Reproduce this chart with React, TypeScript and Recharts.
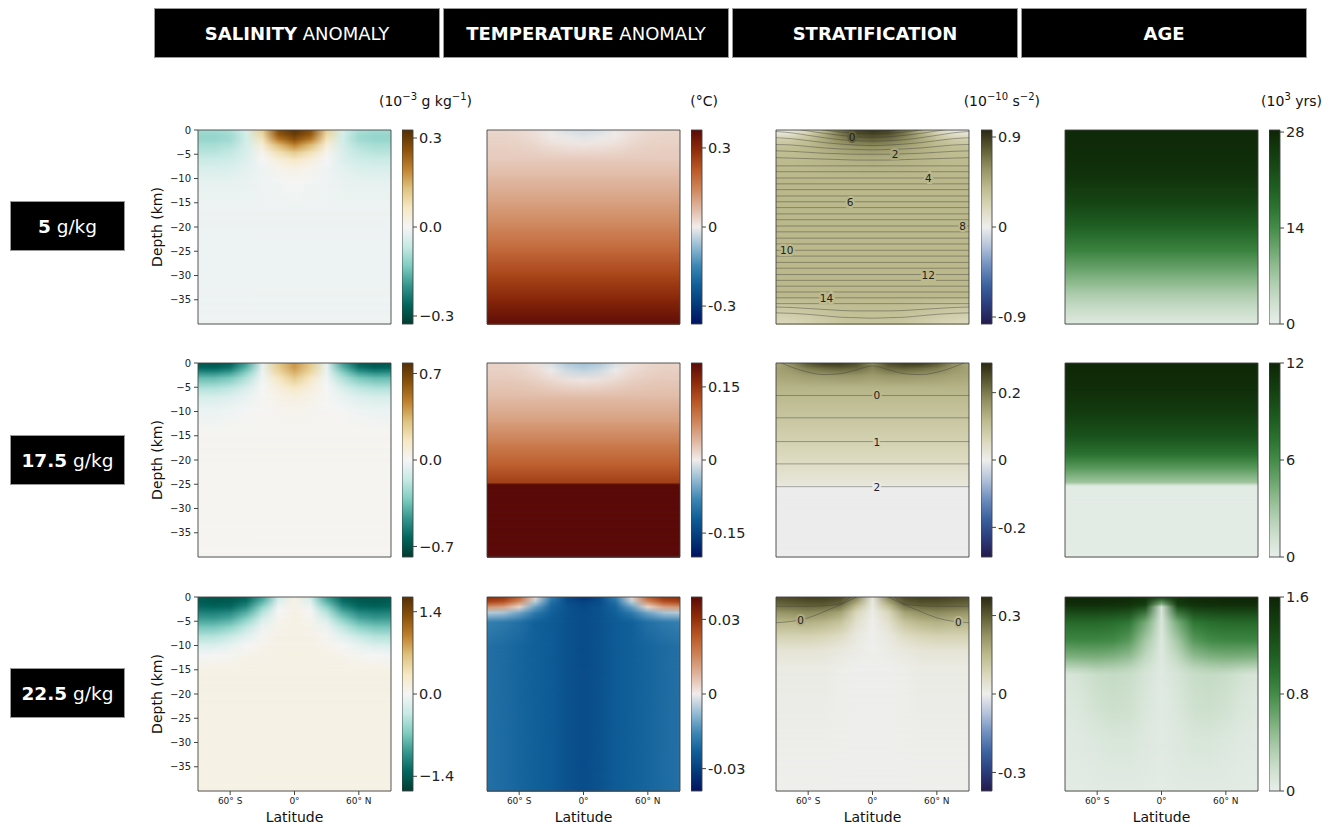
import React from 'react';
import { ComposedChart, XAxis, YAxis, ReferenceArea, ReferenceLine, Line, Scatter } from 'recharts';

// ---------- layout ----------
const COL_X = [198, 487, 776, 1065];
const ROW_Y = [130, 363, 597];
const PW = 193;
const PH = 194;
const CB_X = [402, 691, 981, 1269];
const CBW = 11;
const YW = 40;
const XH = 24;
const TM = 8;
const RM = 2;
const CBM = 10;
const FONT = "'DejaVu Sans', 'Liberation Sans', sans-serif";

// ---------- axes ----------
const LAT_HALF = [0, 15, 30, 45, 60, 75, 90];
const LAT_FULL = [-90, -75, -60, -45, -30, -15, 0, 15, 30, 45, 60, 75, 90];
const DEPTH_TICKS = [0, -5, -10, -15, -20, -25, -30, -35];
const LAT_TICKS = [-60, 0, 60];
const LAT_TICK_LABELS = ['60° S', '0°', '60° N'];

// ---------- titles ----------
const COLUMN_TITLES = [
  { bold: 'SALINITY', rest: ' ANOMALY' },
  { bold: 'TEMPERATURE', rest: ' ANOMALY' },
  { bold: 'STRATIFICATION', rest: '' },
  { bold: 'AGE', rest: '' },
];
const UNITS = [
  [{ b: '(10', s: '−3' }, { b: ' g kg', s: '−1' }, { b: ')', s: '' }],
  [{ b: '(°C)', s: '' }],
  [{ b: '(10', s: '−10' }, { b: ' s', s: '−2' }, { b: ')', s: '' }],
  [{ b: '(10', s: '3' }, { b: ' yrs)', s: '' }],
];
const UNIT_RIGHT = [472, 718, 1040, 1322];
const ROW_TITLES = [
  { bold: '5', rest: ' g/kg' },
  { bold: '17.5', rest: ' g/kg' },
  { bold: '22.5', rest: ' g/kg' },
];

// ---------- colormaps ----------
const CMAP_SAL = [
  [0.0, '#003c30'], [0.1, '#01665e'], [0.2, '#35978f'], [0.3, '#80cdc1'], [0.4, '#c7eae5'],
  [0.5, '#f5f5f5'], [0.6, '#f6e8c3'], [0.7, '#dfc27d'], [0.8, '#bf812d'], [0.9, '#8c510a'], [1.0, '#543005'],
];
const CMAP_TEMP = [
  [0.0, '#001261'], [0.1, '#033a7a'], [0.2, '#0f5e98'], [0.3, '#3d87b5'], [0.4, '#93bbd3'],
  [0.5, '#f1ecea'], [0.6, '#dfb59e'], [0.7, '#cd8458'], [0.8, '#b95626'], [0.9, '#8d2b09'], [1.0, '#5a0a08'],
];
const CMAP_STRAT = [
  [0.0, '#221a4c'], [0.1, '#2b3d7c'], [0.2, '#3c62a0'], [0.3, '#6f8fbf'], [0.4, '#b3c3da'],
  [0.5, '#eeeeec'], [0.6, '#dad8bb'], [0.7, '#bdbb8f'], [0.8, '#959365'], [0.9, '#5f5d35'], [1.0, '#2a2811'],
];
const CMAP_AGE = [
  [0.0, '#e8eeeb'], [0.1, '#d0e1d0'], [0.2, '#b3d0b3'], [0.3, '#90bb90'], [0.4, '#68a36a'],
  [0.5, '#438b48'], [0.6, '#2c7432'], [0.7, '#1f5f22'], [0.8, '#184b17'], [0.9, '#12380e'], [1.0, '#0e2506'],
];

// ---------- fields: rows of {depth km, values at LAT_HALF (mirrored about equator)} ----------
const SAL_5 = [
  { d: 0, v: [0.32, 0.27, 0.11, -0.04, -0.09, -0.1, -0.1] },
  { d: -1, v: [0.30, 0.25, 0.09, -0.05, -0.1, -0.11, -0.11] },
  { d: -2, v: [0.26, 0.2, 0.07, -0.05, -0.1, -0.11, -0.11] },
  { d: -3, v: [0.2, 0.14, 0.04, -0.045, -0.085, -0.095, -0.095] },
  { d: -4.5, v: [0.12, 0.08, 0.015, -0.04, -0.07, -0.08, -0.08] },
  { d: -6, v: [0.06, 0.035, 0.0, -0.035, -0.055, -0.06, -0.06] },
  { d: -8, v: [0.02, 0.01, -0.01, -0.025, -0.035, -0.04, -0.04] },
  { d: -11, v: [0.0, -0.005, -0.01, -0.015, -0.02, -0.02, -0.02] },
  { d: -16, v: -0.012 },
  { d: -40, v: -0.012 },
];
const TEMP_5 = [
  { d: 0, v: [-0.025, -0.02, -0.005, 0.015, 0.025, 0.03, 0.03] },
  { d: -1.5, v: [-0.01, -0.005, 0.005, 0.02, 0.03, 0.033, 0.033] },
  { d: -3, v: [0.01, 0.012, 0.018, 0.028, 0.035, 0.037, 0.037] },
  { d: -6, v: 0.045 },
  { d: -10, v: 0.07 },
  { d: -15, v: 0.105 },
  { d: -20, v: 0.145 },
  { d: -25, v: 0.195 },
  { d: -30, v: 0.25 },
  { d: -35, v: 0.305 },
  { d: -40, v: 0.36 },
];
const STRAT_5 = [
  { d: 0, v: [0.93, 0.88, 0.7, 0.42, 0.18, 0.06, 0.02] },
  { d: -1, v: [0.85, 0.8, 0.66, 0.46, 0.28, 0.16, 0.12] },
  { d: -2, v: [0.74, 0.7, 0.6, 0.47, 0.36, 0.28, 0.25] },
  { d: -3.5, v: [0.58, 0.56, 0.51, 0.45, 0.4, 0.36, 0.35] },
  { d: -6, v: [0.45, 0.44, 0.43, 0.41, 0.4, 0.39, 0.39] },
  { d: -10, v: 0.4 },
  { d: -34, v: 0.4 },
  { d: -37, v: [0.37, 0.37, 0.36, 0.34, 0.32, 0.3, 0.29] },
  { d: -40, v: [0.32, 0.32, 0.3, 0.27, 0.23, 0.2, 0.18] },
];
const AGE_5 = [
  { d: 0, v: 27.6 }, { d: -5, v: 27.3 }, { d: -10, v: 26 }, { d: -15, v: 23.5 }, { d: -20, v: 19.5 },
  { d: -25, v: 15 }, { d: -30, v: 10 }, { d: -34, v: 6 }, { d: -37, v: 3.5 }, { d: -40, v: 1 },
];

const SAL_17_5 = [
  { d: 0, v: [0.42, 0.28, -0.05, -0.45, -0.66, -0.7, -0.68] },
  { d: -1, v: [0.40, 0.26, -0.04, -0.38, -0.58, -0.63, -0.62] },
  { d: -2, v: [0.35, 0.22, -0.03, -0.29, -0.45, -0.50, -0.49] },
  { d: -3, v: [0.28, 0.16, -0.02, -0.21, -0.33, -0.37, -0.37] },
  { d: -5, v: [0.15, 0.08, 0.0, -0.10, -0.18, -0.21, -0.21] },
  { d: -7, v: [0.07, 0.04, 0.005, -0.04, -0.08, -0.10, -0.10] },
  { d: -10, v: [0.025, 0.02, 0.01, -0.005, -0.02, -0.03, -0.03] },
  { d: -14, v: 0.015 },
  { d: -40, v: 0.015 },
];
const TEMP_17_5 = [
  { d: 0, v: [-0.035, -0.028, -0.01, 0.008, 0.015, 0.018, 0.018] },
  { d: -1.5, v: [-0.02, -0.015, -0.002, 0.012, 0.018, 0.02, 0.02] },
  { d: -3.5, v: [0.005, 0.008, 0.014, 0.02, 0.024, 0.025, 0.025] },
  { d: -7, v: 0.035 },
  { d: -12, v: 0.058 },
  { d: -17, v: 0.088 },
  { d: -21, v: 0.112 },
  { d: -24.6, v: 0.14 },
  { d: -25.0, v: 0.21 },
  { d: -40, v: 0.21 },
];
const STRAT_17_5 = [
  { d: 0, v: [0.18, 0.25, 0.27, 0.27, 0.24, 0.18, 0.14] },
  { d: -1, v: [0.19, 0.22, 0.23, 0.22, 0.2, 0.17, 0.15] },
  { d: -2.5, v: [0.16, 0.17, 0.17, 0.165, 0.16, 0.15, 0.145] },
  { d: -5, v: 0.125 },
  { d: -10, v: 0.1 },
  { d: -15, v: 0.075 },
  { d: -20, v: 0.05 },
  { d: -25, v: 0.02 },
  { d: -25.4, v: -0.003 },
  { d: -40, v: -0.003 },
];
const AGE_17_5 = [
  { d: 0, v: 11.8 }, { d: -5, v: 11.5 }, { d: -10, v: 10.6 }, { d: -15, v: 9.2 }, { d: -19, v: 7.2 },
  { d: -22, v: 5.0 }, { d: -24.6, v: 3 }, { d: -25.2, v: 0.6 }, { d: -25.6, v: 0.25 }, { d: -40, v: 0.25 },
];

const SAL_22_5 = [
  { d: 0, v: [0.1, -0.25, -0.95, -1.35, -1.45, -1.45, -1.4] },
  { d: -1, v: [0.1, -0.15, -0.8, -1.25, -1.4, -1.42, -1.38] },
  { d: -2, v: [0.1, -0.05, -0.6, -1.08, -1.3, -1.33, -1.3] },
  { d: -3, v: [0.11, 0.0, -0.42, -0.88, -1.12, -1.17, -1.15] },
  { d: -4.5, v: [0.11, 0.05, -0.22, -0.62, -0.88, -0.96, -0.95] },
  { d: -6, v: [0.11, 0.07, -0.08, -0.38, -0.62, -0.72, -0.72] },
  { d: -8, v: [0.11, 0.09, 0.02, -0.14, -0.32, -0.42, -0.43] },
  { d: -10, v: [0.11, 0.1, 0.07, 0.0, -0.1, -0.17, -0.19] },
  { d: -12, v: [0.11, 0.1, 0.09, 0.07, 0.03, 0.0, -0.02] },
  { d: -15, v: 0.11 },
  { d: -40, v: 0.11 },
];
const TEMP_22_5 = [
  { d: 0, v: [-0.033, -0.028, -0.017, 0.003, 0.022, 0.03, 0.031] },
  { d: -1, v: [-0.029, -0.027, -0.02, -0.005, 0.014, 0.024, 0.026] },
  { d: -2, v: [-0.028, -0.026, -0.022, -0.012, 0.003, 0.011, 0.013] },
  { d: -3.2, v: [-0.027, -0.026, -0.023, -0.018, -0.011, -0.006, -0.005] },
  { d: -5, v: [-0.027, -0.026, -0.024, -0.023, -0.02, -0.018, -0.017] },
  { d: -10, v: [-0.027, -0.026, -0.024, -0.023, -0.022, -0.021, -0.02] },
  { d: -40, v: [-0.027, -0.026, -0.024, -0.023, -0.022, -0.021, -0.02] },
];
const STRAT_22_5 = [
  { d: 0, v: [0.02, 0.25, 0.33, 0.34, 0.34, 0.33, 0.32] },
  { d: -1.5, v: [0.02, 0.16, 0.28, 0.3, 0.3, 0.29, 0.28] },
  { d: -3, v: [0.01, 0.08, 0.2, 0.23, 0.24, 0.23, 0.22] },
  { d: -5, v: [0.0, 0.05, 0.13, 0.16, 0.17, 0.16, 0.16] },
  { d: -8, v: [0.0, 0.02, 0.06, 0.08, 0.09, 0.09, 0.09] },
  { d: -11, v: [0.0, 0.01, 0.02, 0.03, 0.035, 0.035, 0.035] },
  { d: -15, v: [0.0, 0.0, 0.005, 0.01, 0.01, 0.01, 0.01] },
  { d: -40, v: 0 },
];
const AGE_22_5 = [
  { d: 0, v: [1.35, 1.5, 1.56, 1.57, 1.58, 1.58, 1.58] },
  { d: -1.5, v: [0.5, 1.4, 1.5, 1.52, 1.53, 1.53, 1.53] },
  { d: -2, v: [0.12, 1.25, 1.42, 1.45, 1.46, 1.46, 1.46] },
  { d: -5, v: [0.1, 0.6, 0.95, 1.02, 1.05, 1.05, 1.05] },
  { d: -9, v: [0.08, 0.38, 0.7, 0.8, 0.83, 0.83, 0.82] },
  { d: -12.5, v: [0.07, 0.24, 0.45, 0.52, 0.55, 0.54, 0.52] },
  { d: -14.5, v: [0.06, 0.16, 0.28, 0.33, 0.34, 0.3, 0.27] },
  { d: -16, v: [0.06, 0.12, 0.2, 0.22, 0.2, 0.14, 0.1] },
  { d: -22, v: [0.05, 0.1, 0.17, 0.19, 0.16, 0.1, 0.07] },
  { d: -30, v: [0.05, 0.07, 0.1, 0.1, 0.08, 0.06, 0.05] },
  { d: -40, v: [0.04, 0.05, 0.05, 0.05, 0.05, 0.04, 0.04] },
];

// ---------- stratification contours (depths at LAT_HALF, mirrored) ----------
const STRAT_5_CURVES = [
  [-0.2, -0.1, 0.2, 0.6, 1.0, 1.5, 2.0],
  [-0.8, -0.7, -0.4, 0.0, 0.5, 1.0, 1.5],
  [-1.5, -1.4, -1.1, -0.7, -0.2, 0.3, 0.6],
  [-2.3, -2.2, -2.0, -1.6, -1.1, -0.6, -0.3],
  [-3.2, -3.1, -2.9, -2.6, -2.2, -1.8, -1.6],
  [-4.1, -4.0, -3.9, -3.7, -3.4, -3.1, -3.0],
  [-5.0, -5.0, -4.9, -4.8, -4.6, -4.4, -4.3],
  [-6.2, -6.2, -6.1, -6.0, -5.9, -5.8, -5.7],
  [-37.3, -37.3, -37.2, -37.0, -36.8, -36.6, -36.5],
  [-38.8, -38.7, -38.6, -38.3, -38.0, -37.8, -37.7],
];
const STRAT_5_FLAT = [
  -7.4, -8.6, -9.9, -11.1, -12.3, -13.6, -14.8, -16.0, -17.3, -18.5, -19.8, -21.0,
  -22.3, -23.5, -24.8, -26.0, -27.3, -28.5, -29.8, -31.0, -32.2, -33.4, -34.6, -35.8,
];
const STRAT_5_LABELS = [
  { lat: -19, d: -1.4, t: '0' }, { lat: 21, d: -5.0, t: '2' }, { lat: 52, d: -9.9, t: '4' },
  { lat: -21, d: -14.8, t: '6' }, { lat: 84, d: -19.8, t: '8' }, { lat: -80, d: -24.8, t: '10' },
  { lat: 52, d: -29.8, t: '12' }, { lat: -43, d: -34.6, t: '14' },
];
const STRAT_17_5_CURVES = [[-0.6, -1.4, -2.2, -2.4, -1.9, -0.9, 0.5]];
const STRAT_17_5_FLAT = [-6.7, -11.3, -16.2, -20.8, -25.5];
const STRAT_17_5_LABELS = [
  { lat: 4, d: -6.7, t: '0' }, { lat: 4, d: -16.2, t: '1' }, { lat: 4, d: -25.5, t: '2' },
];
const STRAT_22_5_CURVES = [
  [1.5, 0, -1.6, -3.0, -4.3, -5.0, -5.3],
  [3, 1, -1.4, -1.8, -1.9, -1.9, -1.9],
];
const STRAT_22_5_FLAT = [];
const STRAT_22_5_LABELS = [{ lat: -67, d: -4.8, t: '0' }, { lat: 80, d: -5.2, t: '0' }];

// ---------- colorbars ----------
const CB_LIMITS = [
  [[-0.327, 0.327], [-0.368, 0.368], [-0.97, 0.97], [0, 28.3]],
  [[-0.785, 0.785], [-0.199, 0.199], [-0.288, 0.288], [0, 12]],
  [[-1.65, 1.65], [-0.039, 0.039], [-0.371, 0.371], [0, 1.6]],
];
const CB_TICKS = [
  [[0.3, 0, -0.3], [0.3, 0, -0.3], [0.9, 0, -0.9], [28, 14, 0]],
  [[0.7, 0, -0.7], [0.15, 0, -0.15], [0.2, 0, -0.2], [12, 6, 0]],
  [[1.4, 0, -1.4], [0.03, 0, -0.03], [0.3, 0, -0.3], [1.6, 0.8, 0]],
];
const CB_TICK_LABELS = [
  [['0.3', '0.0', '−0.3'], ['0.3', '0', '-0.3'], ['0.9', '0', '-0.9'], ['28', '14', '0']],
  [['0.7', '0.0', '−0.7'], ['0.15', '0', '-0.15'], ['0.2', '0', '-0.2'], ['12', '6', '0']],
  [['1.4', '0.0', '−1.4'], ['0.03', '0', '-0.03'], ['0.3', '0', '-0.3'], ['1.6', '0.8', '0']],
];

const FIELDS = [
  [SAL_5, TEMP_5, STRAT_5, AGE_5],
  [SAL_17_5, TEMP_17_5, STRAT_17_5, AGE_17_5],
  [SAL_22_5, TEMP_22_5, STRAT_22_5, AGE_22_5],
];
const CMAPS = [CMAP_SAL, CMAP_TEMP, CMAP_STRAT, CMAP_AGE];
const CONTOURS = [
  { curves: STRAT_5_CURVES, flat: STRAT_5_FLAT, labels: STRAT_5_LABELS },
  { curves: STRAT_17_5_CURVES, flat: STRAT_17_5_FLAT, labels: STRAT_17_5_LABELS },
  { curves: STRAT_22_5_CURVES, flat: STRAT_22_5_FLAT, labels: STRAT_22_5_LABELS },
];

// ---------- helpers ----------
function hex2rgb(h) {
  const n = parseInt(h.slice(1), 16);
  return [(n >> 16) & 255, (n >> 8) & 255, n & 255];
}
function colorAt(stops, t) {
  const tt = Math.max(0, Math.min(1, t));
  for (let i = 1; i < stops.length; i++) {
    if (tt <= stops[i][0]) {
      const p0 = stops[i - 1][0], p1 = stops[i][0];
      const f = (tt - p0) / (p1 - p0 || 1);
      const a = hex2rgb(stops[i - 1][1]), b = hex2rgb(stops[i][1]);
      return `rgb(${Math.round(a[0] + (b[0] - a[0]) * f)},${Math.round(a[1] + (b[1] - a[1]) * f)},${Math.round(a[2] + (b[2] - a[2]) * f)})`;
    }
  }
  return stops[stops.length - 1][1];
}
function fullProfile(v) {
  const h = Array.isArray(v) ? v : LAT_HALF.map(() => v);
  return [h[6], h[5], h[4], h[3], h[2], h[1], h[0], h[1], h[2], h[3], h[4], h[5], h[6]];
}
function valueAt(rows, lat, d) {
  const j = Math.max(0, Math.min(12, Math.round((lat + 90) / 15)));
  for (let i = 0; i < rows.length - 1; i++) {
    if (d <= rows[i].d && d >= rows[i + 1].d) {
      const f = (rows[i].d - d) / (rows[i].d - rows[i + 1].d || 1);
      const a = fullProfile(rows[i].v)[j], b = fullProfile(rows[i + 1].v)[j];
      return a + (b - a) * f;
    }
  }
  return fullProfile(rows[rows.length - 1].v)[j];
}
const fmtDepth = (v) => (v < 0 ? '−' + Math.abs(v) : String(v));
const fmtLat = (v) => LAT_TICK_LABELS[LAT_TICKS.indexOf(v)] ?? '';

// ---------- panel ----------
function HeatPanel({ row, col }) {
  const id = `hp${row}${col}`;
  const rows = FIELDS[row][col];
  const cmap = CMAPS[col];
  const [vmin, vmax] = CB_LIMITS[row][col];
  const norm = (v) => (v - vmin) / (vmax - vmin);
  const showY = col === 0;
  const showX = row === 2;
  const contour = col === 2 ? CONTOURS[row] : null;
  const lineStyle = { stroke: '#3a3a3a', strokeOpacity: 0.6, strokeWidth: 0.7 };
  return (
    <div style={{ position: 'absolute', left: COL_X[col] - YW, top: ROW_Y[row] - TM }}>
      <ComposedChart width={YW + PW + RM} height={TM + PH + XH} margin={{ top: TM, right: RM, bottom: 0, left: 0 }}>
        <defs>
          {rows.map((r, i) => (
            <linearGradient key={i} id={`${id}-g${i}`} x1="0" y1="0" x2="1" y2="0">
              {fullProfile(r.v).map((v, j) => (
                <stop key={j} offset={(LAT_FULL[j] + 90) / 180} stopColor={colorAt(cmap, norm(v))} />
              ))}
            </linearGradient>
          ))}
          <linearGradient id={`${id}-mg`} x1="0" y1="0" x2="0" y2="1">
            <stop offset="0" stopColor="#000" />
            <stop offset="1" stopColor="#fff" />
          </linearGradient>
          <mask id={`${id}-m`} maskContentUnits="objectBoundingBox">
            <rect x="0" y="0" width="1" height="1" fill={`url(#${id}-mg)`} />
          </mask>
        </defs>
        <XAxis
          type="number" dataKey="lat" domain={[-90, 90]} allowDataOverflow ticks={LAT_TICKS} interval={0}
          tickFormatter={fmtLat} tick={showX ? { fontSize: 9, fill: '#222' } : false}
          tickSize={4} tickMargin={3} tickLine={{ stroke: '#444' }} axisLine={false} height={XH}
        />
        <YAxis
          type="number" dataKey="d" domain={[-40, 0]} allowDataOverflow ticks={DEPTH_TICKS} interval={0}
          tickFormatter={fmtDepth} tick={showY ? { fontSize: 10, fill: '#222' } : false}
          tickSize={4} tickMargin={3} tickLine={{ stroke: '#444' }} axisLine={false} width={YW}
        />
        {rows.slice(0, -1).map((r, i) => (
          <ReferenceArea
            key={`b${i}`} x1={-90} x2={90} y1={rows[i + 1].d} y2={r.d} ifOverflow="visible"
            shape={(sp) => (
              <g>
                <rect x={sp.x} y={sp.y} width={sp.width} height={sp.height + 0.6} fill={`url(#${id}-g${i})`} />
                <rect x={sp.x} y={sp.y} width={sp.width} height={sp.height + 0.6} fill={`url(#${id}-g${i + 1})`} mask={`url(#${id}-m)`} />
              </g>
            )}
          />
        ))}
        {contour && contour.flat.map((d, k) => (
          <ReferenceLine key={`f${k}`} y={d} {...lineStyle} />
        ))}
        {contour && contour.curves.map((c, k) => {
          const prof = fullProfile(c);
          const pts = LAT_FULL.map((lat, j) => ({ lat, d: prof[j] }));
          return (
            <Line key={`c${k}`} data={pts} dataKey="d" type="monotone" dot={false} activeDot={false}
              {...lineStyle} isAnimationActive={false} />
          );
        })}
        {contour && (
          <Scatter
            data={contour.labels} dataKey="d" isAnimationActive={false}
            shape={(sp) => {
              const pl = sp.payload || {};
              const bg = colorAt(cmap, norm(valueAt(rows, pl.lat, pl.d)));
              return (
                <text x={sp.cx} y={sp.cy} textAnchor="middle" dominantBaseline="central" fontSize={10.5}
                  fill="#222" stroke={bg} strokeWidth={4} paintOrder="stroke" style={{ fontFamily: FONT }}>
                  {pl.t}
                </text>
              );
            }}
          />
        )}
        <ReferenceArea x1={-90} x2={90} y1={-40} y2={0} fill="none" fillOpacity={0} stroke="#444" strokeWidth={0.9} ifOverflow="visible" />
      </ComposedChart>
    </div>
  );
}

function ColorBar({ row, col }) {
  const id = `cb${row}${col}`;
  const cmap = CMAPS[col];
  const lim = CB_LIMITS[row][col];
  const ticks = CB_TICKS[row][col];
  const labels = CB_TICK_LABELS[row][col];
  return (
    <div style={{ position: 'absolute', left: CB_X[col], top: ROW_Y[row] - CBM }}>
      <ComposedChart width={CBW + 60} height={CBM + PH + CBM} margin={{ top: CBM, right: 0, bottom: CBM, left: 0 }}>
        <defs>
          <linearGradient id={`${id}-grad`} x1="0" y1="1" x2="0" y2="0">
            {cmap.map(([pos, c], k) => <stop key={k} offset={pos} stopColor={c} />)}
          </linearGradient>
        </defs>
        <XAxis type="number" dataKey="x" domain={[0, 1]} allowDataOverflow hide />
        <YAxis
          type="number" orientation="right" domain={lim} allowDataOverflow ticks={ticks} interval={0}
          tickFormatter={(v) => labels[ticks.indexOf(v)] ?? ''} width={60}
          tick={{ fontSize: 14.5, fill: '#222' }} tickSize={4} tickMargin={2}
          tickLine={{ stroke: '#444' }} axisLine={false}
        />
        <ReferenceArea x1={0} x2={1} y1={lim[0]} y2={lim[1]} fill={`url(#${id}-grad)`} fillOpacity={1}
          stroke="#444" strokeWidth={0.9} ifOverflow="visible" />
      </ComposedChart>
    </div>
  );
}

export default function App() {
  const cells = [];
  for (let r = 0; r < 3; r++) {
    for (let c = 0; c < 4; c++) {
      cells.push(<HeatPanel key={`p${r}${c}`} row={r} col={c} />);
      cells.push(<ColorBar key={`c${r}${c}`} row={r} col={c} />);
    }
  }
  return (
    <div style={{ position: 'absolute', left: 0, top: 0, width: 1336, height: 827, background: '#fff', fontFamily: FONT, color: '#222', overflow: 'hidden' }}>
      {COLUMN_TITLES.map((t, i) => (
        <div key={`h${i}`} style={{
          position: 'absolute', left: 154 + i * 289, top: 8, width: 286, height: 50, boxSizing: 'border-box',
          background: '#000', border: '1px solid #999', color: '#fff', fontSize: 18,
          display: 'flex', alignItems: 'center', justifyContent: 'center', whiteSpace: 'pre',
        }}>
          <span style={{ fontWeight: 'bold' }}>{t.bold}</span><span>{t.rest}</span>
        </div>
      ))}
      {ROW_TITLES.map((t, i) => (
        <div key={`r${i}`} style={{
          position: 'absolute', left: 10, top: [201, 435, 668][i], width: 115, height: 50, boxSizing: 'border-box',
          background: '#000', border: '1px solid #999', color: '#fff', fontSize: 18.5,
          display: 'flex', alignItems: 'center', justifyContent: 'center', whiteSpace: 'pre',
        }}>
          <span style={{ fontWeight: 'bold' }}>{t.bold}</span><span>{t.rest}</span>
        </div>
      ))}
      {UNITS.map((u, i) => (
        <div key={`u${i}`} style={{
          position: 'absolute', right: 1336 - UNIT_RIGHT[i], top: 91, fontSize: 14, lineHeight: '20px', whiteSpace: 'pre', color: '#111',
        }}>
          {u.map((p, k) => (
            <span key={k}>{p.b}{p.s ? <sup style={{ fontSize: 10, lineHeight: 0 }}>{p.s}</sup> : null}</span>
          ))}
        </div>
      ))}
      {ROW_Y.map((y, i) => (
        <div key={`dl${i}`} style={{
          position: 'absolute', left: 157 - 60, top: y + PH / 2 - 10, width: 120, height: 20, lineHeight: '20px',
          textAlign: 'center', fontSize: 14, transform: 'rotate(-90deg)', color: '#111',
        }}>Depth (km)</div>
      ))}
      {COL_X.map((x, i) => (
        <div key={`xl${i}`} style={{
          position: 'absolute', left: x + PW / 2 - 60, top: 807, width: 120, height: 20, lineHeight: '20px',
          textAlign: 'center', fontSize: 14, color: '#111',
        }}>Latitude</div>
      ))}
      {cells}
    </div>
  );
}
